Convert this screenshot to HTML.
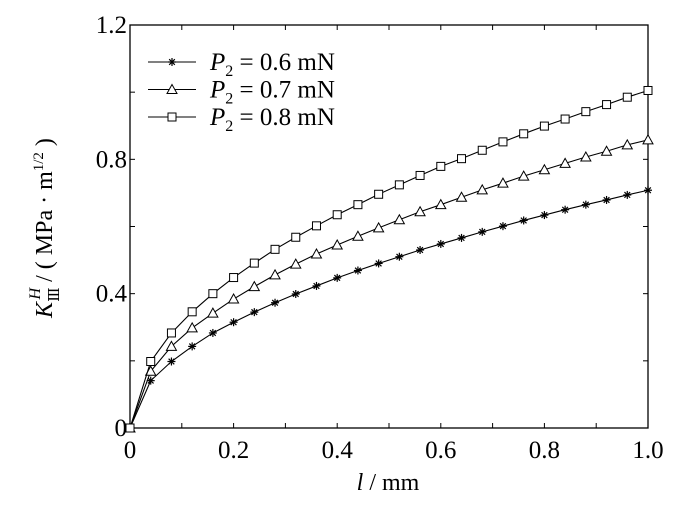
<!DOCTYPE html>
<html><head><meta charset="utf-8"><style>
body{margin:0;background:#fff}
svg, svg text, svg tspan{font-family:"Liberation Serif","Times New Roman","DejaVu Serif",serif !important;fill:#000}
</style></head><body>
<svg id="chart" width="700" height="506" viewBox="0 0 700 506" xmlns="http://www.w3.org/2000/svg" font-family="'Liberation Serif', 'DejaVu Serif', serif">
<rect x="0" y="0" width="700" height="506" fill="#fff"/>
<g id="axes"></g>
<g id="series"></g>
<g id="legend"></g>
<text x="388" y="490" font-size="24" text-anchor="middle"><tspan font-style="italic">l</tspan> / mm</text>
<text transform="translate(52,228) rotate(-90)" font-size="24" text-anchor="middle"><tspan font-style="italic">K</tspan><tspan font-size="15" dy="7">Ⅲ</tspan><tspan font-size="16" font-style="italic" dy="-19" dx="-12">H</tspan><tspan dy="12"> / ( MPa · m</tspan><tspan font-size="15" dy="-9">1/2</tspan><tspan dy="9"> )</tspan></text>
</svg>
<script>
const xValues=[0,0.04,0.08,0.12,0.16,0.2,0.24,0.28,0.32,0.36,0.4,0.44,0.48,0.52,0.56,0.6,0.64,0.68,0.72,0.76,0.8,0.84,0.88,0.92,0.96,1.0];
const seriesP06=[0,0.141,0.198,0.243,0.283,0.315,0.345,0.373,0.399,0.423,0.447,0.469,0.490,0.510,0.530,0.548,0.566,0.584,0.601,0.618,0.634,0.650,0.665,0.679,0.694,0.708];
const seriesP07=[0,0.169,0.243,0.298,0.342,0.384,0.421,0.456,0.488,0.518,0.545,0.571,0.596,0.620,0.644,0.665,0.687,0.709,0.729,0.750,0.769,0.788,0.807,0.824,0.843,0.858];
const seriesP08=[0,0.198,0.283,0.346,0.400,0.448,0.491,0.532,0.568,0.602,0.635,0.665,0.696,0.724,0.752,0.779,0.802,0.827,0.852,0.876,0.899,0.920,0.942,0.963,0.985,1.005];
const xTickLabels=["0","0.2","0.4","0.6","0.8","1.0"];
const yTickLabels=["0","0.4","0.8","1.2"];
const seriesNames=["0.6 mN","0.7 mN","0.8 mN"];

const NS="http://www.w3.org/2000/svg";
const L=130,R=648,T=25,B=428;
const X=v=>L+(v-0)/(1-0)*(R-L);
const Y=v=>B-(v-0)/1.2*(B-T);
function mk(tag,attrs,parent){const e=document.createElementNS(NS,tag);for(const k in attrs)e.setAttribute(k,attrs[k]);parent.appendChild(e);return e;}
const axes=document.getElementById('axes');
const frame=mk('rect',{x:L,y:T,width:R-L,height:B-T,fill:'none',stroke:'#000','stroke-width':1.3},axes);


for(let i=0;i<=10;i++){const v=i/10,x=X(v);
 mk('line',{x1:x,y1:B,x2:x,y2:B-5,stroke:'#000'},axes);
 mk('line',{x1:x,y1:T,x2:x,y2:T+5,stroke:'#000'},axes);}
xTickLabels.forEach(s=>{const t=mk('text',{x:X(parseFloat(s)),y:B+30,'font-size':25,'text-anchor':'middle'},axes);t.textContent=s;
 
 });
for(let i=0;i<=6;i++){const v=i*0.2,y=Y(v);
 mk('line',{x1:L,y1:y,x2:L+5,y2:y,stroke:'#000'},axes);
 mk('line',{x1:R,y1:y,x2:R-5,y2:y,stroke:'#000'},axes);}
yTickLabels.forEach(s=>{const t=mk('text',{x:L-3,y:Y(parseFloat(s))+8,'font-size':25,'text-anchor':'end'},axes);t.textContent=s;
 
 });
function marker(g,type,x,y){
 if(type==='star'){for(let a=0;a<4;a++){const an=a*Math.PI/4;mk('line',{x1:x-4*Math.cos(an),y1:y-4*Math.sin(an),x2:x+4*Math.cos(an),y2:y+4*Math.sin(an),stroke:'#000','stroke-width':1.2},g);}}
 else if(type==='tri'){mk('polygon',{points:`${x},${y-5} ${x-5},${y+4} ${x+5},${y+4}`,fill:'#fff',stroke:'#000','stroke-width':1},g);}
 else {mk('rect',{x:x-4,y:y-4,width:8,height:8,fill:'#fff',stroke:'#000','stroke-width':1},g);}
}
const sg=document.getElementById('series');
const all=[[seriesP06,'star','series-p2-0-6'],[seriesP07,'tri','series-p2-0-7'],[seriesP08,'sq','series-p2-0-8']];
all.forEach(([d,type,name])=>{const g=mk('g',{},sg);
 
 
 mk('polyline',{points:d.map((v,i)=>X(xValues[i])+','+Y(v)).join(' '),fill:'none',stroke:'#000','stroke-width':1.1},g);
 d.forEach((v,i)=>marker(g,type,X(xValues[i]),Y(v)));});
const lg=document.getElementById('legend');
all.forEach(([d,type],i)=>{const y=62+i*27.5;const g=mk('g',{},lg);
 
 
 mk('line',{x1:148,y1:y,x2:196,y2:y,stroke:'#000','stroke-width':1.1},g);
 marker(g,type,172,y);
 const t=mk('text',{x:210,y:y+8,'font-size':25},g);
 t.innerHTML='<tspan font-style="italic">P</tspan><tspan font-size="16" dy="6">2</tspan><tspan dy="-6"> = '+seriesNames[i]+'</tspan>';});
</script>
</body></html>
